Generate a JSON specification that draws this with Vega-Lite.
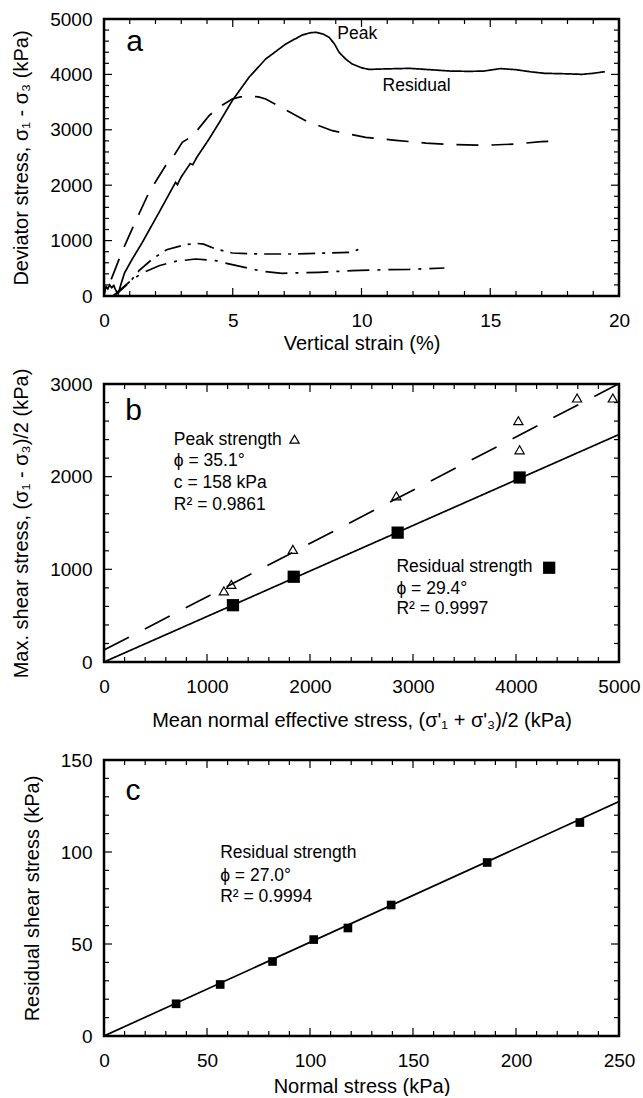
{
  "$schema": "https://vega.github.io/schema/vega-lite/v6.json",
  "padding": {"left": 11, "top": 10, "right": 5, "bottom": 0},
  "config": {
    "font": "Liberation Sans",
    "view": {"stroke": null},
    "axis": {"domain": false, "ticks": false, "grid": false, "labelFont": "Liberation Sans", "titleFont": "Liberation Sans", "labelFontSize": 19, "titleFontSize": 20, "titleFontWeight": "normal", "labelColor": "black", "titleColor": "black", "labelOverlap": false, "labelFlush": false},
    "text": {"font": "Liberation Sans", "color": "black"},
    "point": {"opacity": 1}
  },
  "resolve": {"scale": {"strokeDash": "independent", "size": "independent"}},
  "datasets": {
    "a_curves": [
      {"s": "S", "x": 0, "y": 0}, {"s": "S", "x": 0.08, "y": 170}, {"s": "S", "x": 0.15, "y": 130}, {"s": "S", "x": 0.22, "y": 200}, {"s": "S", "x": 0.3, "y": 150}, {"s": "S", "x": 0.38, "y": 190}, {"s": "S", "x": 0.45, "y": 110}, {"s": "S", "x": 0.55, "y": 40}, {"s": "S", "x": 0.65, "y": 200}, {"s": "S", "x": 0.8, "y": 420}, {"s": "S", "x": 1.1, "y": 668}, {"s": "S", "x": 1.49, "y": 969}, {"s": "S", "x": 2.14, "y": 1511}, {"s": "S", "x": 2.6, "y": 1900}, {"s": "S", "x": 2.78, "y": 2052}, {"s": "S", "x": 2.85, "y": 2010}, {"s": "S", "x": 3.0, "y": 2150}, {"s": "S", "x": 3.35, "y": 2390}, {"s": "S", "x": 3.45, "y": 2370}, {"s": "S", "x": 3.6, "y": 2500}, {"s": "S", "x": 4.08, "y": 2834}, {"s": "S", "x": 4.5, "y": 3150}, {"s": "S", "x": 4.98, "y": 3526}, {"s": "S", "x": 5.63, "y": 3947}, {"s": "S", "x": 6.28, "y": 4278}, {"s": "S", "x": 7.06, "y": 4549}, {"s": "S", "x": 7.7, "y": 4711}, {"s": "S", "x": 8.0, "y": 4750}, {"s": "S", "x": 8.22, "y": 4760}, {"s": "S", "x": 8.5, "y": 4730}, {"s": "S", "x": 8.74, "y": 4670}, {"s": "S", "x": 8.95, "y": 4550}, {"s": "S", "x": 9.13, "y": 4399}, {"s": "S", "x": 9.4, "y": 4270}, {"s": "S", "x": 9.64, "y": 4188}, {"s": "S", "x": 10.0, "y": 4120}, {"s": "S", "x": 10.29, "y": 4090}, {"s": "S", "x": 11.0, "y": 4100}, {"s": "S", "x": 11.86, "y": 4109}, {"s": "S", "x": 12.5, "y": 4090}, {"s": "S", "x": 13.46, "y": 4060}, {"s": "S", "x": 14.2, "y": 4055}, {"s": "S", "x": 14.74, "y": 4060}, {"s": "S", "x": 15.4, "y": 4105}, {"s": "S", "x": 16.0, "y": 4085}, {"s": "S", "x": 16.6, "y": 4045}, {"s": "S", "x": 17.1, "y": 4020}, {"s": "S", "x": 18.0, "y": 4010}, {"s": "S", "x": 18.57, "y": 4001}, {"s": "S", "x": 19.0, "y": 4020}, {"s": "S", "x": 19.45, "y": 4049},
      {"s": "D", "x": 0.28, "y": 300}, {"s": "D", "x": 0.7, "y": 800}, {"s": "D", "x": 1.12, "y": 1240}, {"s": "D", "x": 1.75, "y": 1872}, {"s": "D", "x": 2.39, "y": 2352}, {"s": "D", "x": 2.75, "y": 2560}, {"s": "D", "x": 3.04, "y": 2774}, {"s": "D", "x": 3.4, "y": 2880}, {"s": "D", "x": 3.56, "y": 2955}, {"s": "D", "x": 4.08, "y": 3255}, {"s": "D", "x": 4.5, "y": 3420}, {"s": "D", "x": 4.98, "y": 3556}, {"s": "D", "x": 5.3, "y": 3595}, {"s": "D", "x": 5.63, "y": 3605}, {"s": "D", "x": 6.0, "y": 3595}, {"s": "D", "x": 6.28, "y": 3556}, {"s": "D", "x": 7.06, "y": 3360}, {"s": "D", "x": 7.83, "y": 3165}, {"s": "D", "x": 8.87, "y": 2984}, {"s": "D", "x": 10.16, "y": 2864}, {"s": "D", "x": 11.33, "y": 2810}, {"s": "D", "x": 12.5, "y": 2760}, {"s": "D", "x": 13.46, "y": 2735}, {"s": "D", "x": 14.5, "y": 2725}, {"s": "D", "x": 15.06, "y": 2726}, {"s": "D", "x": 16.0, "y": 2744}, {"s": "D", "x": 16.98, "y": 2786}, {"s": "D", "x": 17.7, "y": 2800},
      {"s": "U", "x": 0.4, "y": 0}, {"s": "U", "x": 1.0, "y": 250}, {"s": "U", "x": 1.36, "y": 457}, {"s": "U", "x": 1.88, "y": 668}, {"s": "U", "x": 2.43, "y": 836}, {"s": "U", "x": 3.17, "y": 926}, {"s": "U", "x": 3.6, "y": 950}, {"s": "U", "x": 3.87, "y": 935}, {"s": "U", "x": 4.34, "y": 848}, {"s": "U", "x": 4.98, "y": 776}, {"s": "U", "x": 6.02, "y": 758}, {"s": "U", "x": 7.31, "y": 758}, {"s": "U", "x": 8.61, "y": 776}, {"s": "U", "x": 9.64, "y": 788}, {"s": "U", "x": 9.84, "y": 836}, {"s": "U", "x": 10.0, "y": 776},
      {"s": "L", "x": 0.35, "y": 0}, {"s": "L", "x": 1.05, "y": 280}, {"s": "L", "x": 1.49, "y": 415}, {"s": "L", "x": 2.14, "y": 547}, {"s": "L", "x": 2.78, "y": 626}, {"s": "L", "x": 3.56, "y": 668}, {"s": "L", "x": 4.34, "y": 637}, {"s": "L", "x": 4.98, "y": 565}, {"s": "L", "x": 6.15, "y": 446}, {"s": "L", "x": 6.92, "y": 410}, {"s": "L", "x": 8.35, "y": 428}, {"s": "L", "x": 9.64, "y": 457}, {"s": "L", "x": 11.07, "y": 475}, {"s": "L", "x": 11.86, "y": 480}, {"s": "L", "x": 13.22, "y": 505}
    ],
    "a_text": [{"x": 9.06, "y": 4729, "t": "Peak"}, {"x": 10.82, "y": 3785, "t": "Residual"}],
    "a_letter": [{"x": 0.86, "y": 4579, "t": "a"}],
    "a_box": [{"i": 0, "x": 0, "y": 0}, {"i": 1, "x": 20, "y": 0}, {"i": 2, "x": 20, "y": 5000}, {"i": 3, "x": 0, "y": 5000}, {"i": 4, "x": 0, "y": 0}],
    "a_xt": [{"v": 0, "k": "M"}, {"v": 1, "k": "m"}, {"v": 2, "k": "m"}, {"v": 3, "k": "m"}, {"v": 4, "k": "m"}, {"v": 5, "k": "M"}, {"v": 6, "k": "m"}, {"v": 7, "k": "m"}, {"v": 8, "k": "m"}, {"v": 9, "k": "m"}, {"v": 10, "k": "M"}, {"v": 11, "k": "m"}, {"v": 12, "k": "m"}, {"v": 13, "k": "m"}, {"v": 14, "k": "m"}, {"v": 15, "k": "M"}, {"v": 16, "k": "m"}, {"v": 17, "k": "m"}, {"v": 18, "k": "m"}, {"v": 19, "k": "m"}, {"v": 20, "k": "M"}],
    "a_yt": [{"v": 0, "k": "M"}, {"v": 200, "k": "m"}, {"v": 400, "k": "m"}, {"v": 600, "k": "m"}, {"v": 800, "k": "m"}, {"v": 1000, "k": "M"}, {"v": 1200, "k": "m"}, {"v": 1400, "k": "m"}, {"v": 1600, "k": "m"}, {"v": 1800, "k": "m"}, {"v": 2000, "k": "M"}, {"v": 2200, "k": "m"}, {"v": 2400, "k": "m"}, {"v": 2600, "k": "m"}, {"v": 2800, "k": "m"}, {"v": 3000, "k": "M"}, {"v": 3200, "k": "m"}, {"v": 3400, "k": "m"}, {"v": 3600, "k": "m"}, {"v": 3800, "k": "m"}, {"v": 4000, "k": "M"}, {"v": 4200, "k": "m"}, {"v": 4400, "k": "m"}, {"v": 4600, "k": "m"}, {"v": 4800, "k": "m"}, {"v": 5000, "k": "M"}],
    "b_fit": [{"fit": "peak", "x": 0, "y": 129}, {"fit": "peak", "x": 5000, "y": 3004}, {"fit": "res", "x": 0, "y": 0}, {"fit": "res", "x": 5000, "y": 2455}],
    "b_peak": [{"x": 1164, "y": 768}, {"x": 1236, "y": 837}, {"x": 1834, "y": 1215}, {"x": 2839, "y": 1792}, {"x": 4023, "y": 2604}, {"x": 4035, "y": 2290}, {"x": 4593, "y": 2849}, {"x": 4940, "y": 2849}, {"x": 1850, "y": 2405}],
    "b_res": [{"x": 1252, "y": 613}, {"x": 1842, "y": 920}, {"x": 2851, "y": 1396}, {"x": 4035, "y": 1991}, {"x": 4322, "y": 1017}],
    "b_text": [
      {"x": 678, "y": 2398, "t": "Peak strength"}, {"x": 678, "y": 2164, "t": "ϕ = 35.1°"}, {"x": 678, "y": 1929, "t": "c = 158 kPa"}, {"x": 678, "y": 1695, "t": "R² = 0.9861"},
      {"x": 2839, "y": 1028, "t": "Residual strength"}, {"x": 2839, "y": 793, "t": "ϕ = 29.4°"}, {"x": 2839, "y": 577, "t": "R² = 0.9997"}
    ],
    "b_letter": [{"x": 207, "y": 2705, "t": "b"}],
    "b_box": [{"i": 0, "x": 0, "y": 0}, {"i": 1, "x": 5000, "y": 0}, {"i": 2, "x": 5000, "y": 3000}, {"i": 3, "x": 0, "y": 3000}, {"i": 4, "x": 0, "y": 0}],
    "b_xt": [{"v": 0, "k": "M"}, {"v": 200, "k": "m"}, {"v": 400, "k": "m"}, {"v": 600, "k": "m"}, {"v": 800, "k": "m"}, {"v": 1000, "k": "M"}, {"v": 1200, "k": "m"}, {"v": 1400, "k": "m"}, {"v": 1600, "k": "m"}, {"v": 1800, "k": "m"}, {"v": 2000, "k": "M"}, {"v": 2200, "k": "m"}, {"v": 2400, "k": "m"}, {"v": 2600, "k": "m"}, {"v": 2800, "k": "m"}, {"v": 3000, "k": "M"}, {"v": 3200, "k": "m"}, {"v": 3400, "k": "m"}, {"v": 3600, "k": "m"}, {"v": 3800, "k": "m"}, {"v": 4000, "k": "M"}, {"v": 4200, "k": "m"}, {"v": 4400, "k": "m"}, {"v": 4600, "k": "m"}, {"v": 4800, "k": "m"}, {"v": 5000, "k": "M"}],
    "b_yt": [{"v": 0, "k": "M"}, {"v": 200, "k": "m"}, {"v": 400, "k": "m"}, {"v": 600, "k": "m"}, {"v": 800, "k": "m"}, {"v": 1000, "k": "M"}, {"v": 1200, "k": "m"}, {"v": 1400, "k": "m"}, {"v": 1600, "k": "m"}, {"v": 1800, "k": "m"}, {"v": 2000, "k": "M"}, {"v": 2200, "k": "m"}, {"v": 2400, "k": "m"}, {"v": 2600, "k": "m"}, {"v": 2800, "k": "m"}, {"v": 3000, "k": "M"}],
    "c_fit": [{"x": 0, "y": 0}, {"x": 250, "y": 127.4}],
    "c_res": [{"x": 35, "y": 17.5}, {"x": 56.4, "y": 28.0}, {"x": 81.8, "y": 40.5}, {"x": 101.8, "y": 52.4}, {"x": 118.4, "y": 58.7}, {"x": 139.4, "y": 71.2}, {"x": 186, "y": 94.3}, {"x": 231, "y": 116.0}],
    "c_text": [{"x": 56.4, "y": 99.2, "t": "Residual strength"}, {"x": 56.4, "y": 87.1, "t": "ϕ = 27.0°"}, {"x": 56.4, "y": 75.4, "t": "R² = 0.9994"}],
    "c_letter": [{"x": 10.4, "y": 133.2, "t": "c"}],
    "c_box": [{"i": 0, "x": 0, "y": 0}, {"i": 1, "x": 250, "y": 0}, {"i": 2, "x": 250, "y": 150}, {"i": 3, "x": 0, "y": 150}, {"i": 4, "x": 0, "y": 0}],
    "c_xt": [{"v": 0, "k": "M"}, {"v": 10, "k": "m"}, {"v": 20, "k": "m"}, {"v": 30, "k": "m"}, {"v": 40, "k": "m"}, {"v": 50, "k": "M"}, {"v": 60, "k": "m"}, {"v": 70, "k": "m"}, {"v": 80, "k": "m"}, {"v": 90, "k": "m"}, {"v": 100, "k": "M"}, {"v": 110, "k": "m"}, {"v": 120, "k": "m"}, {"v": 130, "k": "m"}, {"v": 140, "k": "m"}, {"v": 150, "k": "M"}, {"v": 160, "k": "m"}, {"v": 170, "k": "m"}, {"v": 180, "k": "m"}, {"v": 190, "k": "m"}, {"v": 200, "k": "M"}, {"v": 210, "k": "m"}, {"v": 220, "k": "m"}, {"v": 230, "k": "m"}, {"v": 240, "k": "m"}, {"v": 250, "k": "M"}],
    "c_yt": [{"v": 0, "k": "M"}, {"v": 10, "k": "m"}, {"v": 20, "k": "m"}, {"v": 30, "k": "m"}, {"v": 40, "k": "m"}, {"v": 50, "k": "M"}, {"v": 60, "k": "m"}, {"v": 70, "k": "m"}, {"v": 80, "k": "m"}, {"v": 90, "k": "m"}, {"v": 100, "k": "M"}, {"v": 110, "k": "m"}, {"v": 120, "k": "m"}, {"v": 130, "k": "m"}, {"v": 140, "k": "m"}, {"v": 150, "k": "M"}]
  },
  "spacing": 15,
  "vconcat": [
    {
      "width": 515, "height": 277,
      "resolve": {"axis": {"x": "independent", "y": "independent"}},
      "layer": [
        {
          "data": {"name": "a_curves"},
          "mark": {"type": "line", "color": "black", "strokeWidth": 1.7, "clip": true},
          "encoding": {
            "x": {"field": "x", "type": "quantitative", "scale": {"domain": [0, 20], "nice": false, "zero": false},
                  "axis": {"orient": "bottom", "values": [0, 5, 10, 15, 20], "labelPadding": 15, "format": "d", "title": "Vertical strain (%)", "titlePadding": 3}},
            "y": {"field": "y", "type": "quantitative", "scale": {"domain": [0, 5000], "nice": false},
                  "axis": {"orient": "left", "values": [0, 1000, 2000, 3000, 4000, 5000], "labelPadding": 12, "format": "d", "title": "Deviator stress, σ₁ - σ₃ (kPa)", "titlePadding": 18}},
            "strokeDash": {"field": "s", "type": "nominal", "scale": {"domain": ["S", "D", "U", "L"], "range": [[1, 0], [22, 13], [17, 7, 3, 7], [22, 8, 3, 8]]}, "legend": null}
          }
        },
        {
          "data": {"name": "a_box"},
          "mark": {"type": "line", "color": "black", "strokeWidth": 2.5, "strokeJoin": "miter", "strokeCap": "square"},
          "encoding": {
            "x": {"field": "x", "type": "quantitative", "scale": {"domain": [0, 20], "nice": false, "zero": false}, "axis": null},
            "y": {"field": "y", "type": "quantitative", "scale": {"domain": [0, 5000], "nice": false}, "axis": null},
            "order": {"field": "i"}
          }
        },
        {
          "data": {"name": "a_xt"},
          "mark": {"type": "point", "shape": "M0,0L0,-1", "filled": false, "color": "black", "strokeWidth": 1.2},
          "encoding": {
            "x": {"field": "v", "type": "quantitative", "scale": {"domain": [0, 20], "nice": false, "zero": false}, "axis": null},
            "y": {"datum": 0, "type": "quantitative", "scale": {"domain": [0, 5000], "nice": false}, "axis": null},
            "size": {"field": "k", "type": "ordinal", "scale": {"domain": ["M", "m"], "range": [256, 100]}, "legend": null}
          }
        },
        {
          "data": {"name": "a_xt"},
          "mark": {"type": "point", "shape": "M0,0L0,1", "filled": false, "color": "black", "strokeWidth": 1.2},
          "encoding": {
            "x": {"field": "v", "type": "quantitative", "scale": {"domain": [0, 20], "nice": false, "zero": false}, "axis": null},
            "y": {"datum": 5000, "type": "quantitative", "scale": {"domain": [0, 5000], "nice": false}, "axis": null},
            "size": {"field": "k", "type": "ordinal", "scale": {"domain": ["M", "m"], "range": [256, 100]}, "legend": null}
          }
        },
        {
          "data": {"name": "a_yt"},
          "mark": {"type": "point", "shape": "M0,0L1,0", "filled": false, "color": "black", "strokeWidth": 1.2},
          "encoding": {
            "y": {"field": "v", "type": "quantitative", "scale": {"domain": [0, 5000], "nice": false}, "axis": null},
            "x": {"datum": 0, "type": "quantitative", "scale": {"domain": [0, 20], "nice": false, "zero": false}, "axis": null},
            "size": {"field": "k", "type": "ordinal", "scale": {"domain": ["M", "m"], "range": [256, 100]}, "legend": null}
          }
        },
        {
          "data": {"name": "a_yt"},
          "mark": {"type": "point", "shape": "M0,0L-1,0", "filled": false, "color": "black", "strokeWidth": 1.2},
          "encoding": {
            "y": {"field": "v", "type": "quantitative", "scale": {"domain": [0, 5000], "nice": false}, "axis": null},
            "x": {"datum": 20, "type": "quantitative", "scale": {"domain": [0, 20], "nice": false, "zero": false}, "axis": null},
            "size": {"field": "k", "type": "ordinal", "scale": {"domain": ["M", "m"], "range": [256, 100]}, "legend": null}
          }
        },
        {
          "data": {"name": "a_text"},
          "mark": {"type": "text", "align": "left", "baseline": "middle", "fontSize": 17.5},
          "encoding": {
            "x": {"field": "x", "type": "quantitative", "scale": {"domain": [0, 20], "nice": false, "zero": false}, "axis": null},
            "y": {"field": "y", "type": "quantitative", "scale": {"domain": [0, 5000], "nice": false}, "axis": null},
            "text": {"field": "t"}
          }
        },
        {
          "data": {"name": "a_letter"},
          "mark": {"type": "text", "align": "left", "baseline": "middle", "fontSize": 30},
          "encoding": {
            "x": {"field": "x", "type": "quantitative", "scale": {"domain": [0, 20], "nice": false, "zero": false}, "axis": null},
            "y": {"field": "y", "type": "quantitative", "scale": {"domain": [0, 5000], "nice": false}, "axis": null},
            "text": {"field": "t"}
          }
        }
      ]
    },
    {
      "width": 515, "height": 278,
      "resolve": {"axis": {"x": "independent", "y": "independent"}},
      "layer": [
        {
          "data": {"name": "b_fit"},
          "mark": {"type": "line", "color": "black", "strokeWidth": 1.7, "clip": true},
          "encoding": {
            "x": {"field": "x", "type": "quantitative", "scale": {"domain": [0, 5000], "nice": false, "zero": false},
                  "axis": {"orient": "bottom", "values": [0, 1000, 2000, 3000, 4000, 5000], "labelPadding": 15, "format": "d", "title": ["Mean normal effective stress, (σ'₁ + σ'₃)/2  (kPa)", " "], "titleLineHeight": 6, "titlePadding": 14}},
            "y": {"field": "y", "type": "quantitative", "scale": {"domain": [0, 3000], "nice": false},
                  "axis": {"orient": "left", "values": [0, 1000, 2000, 3000], "labelPadding": 12, "format": "d", "title": "Max. shear stress, (σ₁ - σ₃)/2 (kPa)", "titlePadding": 18}},
            "strokeDash": {"field": "fit", "type": "nominal", "scale": {"domain": ["peak", "res"], "range": [[28, 18], [1, 0]]}, "legend": null}
          }
        },
        {
          "data": {"name": "b_box"},
          "mark": {"type": "line", "color": "black", "strokeWidth": 2.5, "strokeJoin": "miter", "strokeCap": "square"},
          "encoding": {
            "x": {"field": "x", "type": "quantitative", "scale": {"domain": [0, 5000], "nice": false, "zero": false}, "axis": null},
            "y": {"field": "y", "type": "quantitative", "scale": {"domain": [0, 3000], "nice": false}, "axis": null},
            "order": {"field": "i"}
          }
        },
        {
          "data": {"name": "b_xt"},
          "mark": {"type": "point", "shape": "M0,0L0,-1", "filled": false, "color": "black", "strokeWidth": 1.2},
          "encoding": {
            "x": {"field": "v", "type": "quantitative", "scale": {"domain": [0, 5000], "nice": false, "zero": false}, "axis": null},
            "y": {"datum": 0, "type": "quantitative", "scale": {"domain": [0, 3000], "nice": false}, "axis": null},
            "size": {"field": "k", "type": "ordinal", "scale": {"domain": ["M", "m"], "range": [256, 100]}, "legend": null}
          }
        },
        {
          "data": {"name": "b_xt"},
          "mark": {"type": "point", "shape": "M0,0L0,1", "filled": false, "color": "black", "strokeWidth": 1.2},
          "encoding": {
            "x": {"field": "v", "type": "quantitative", "scale": {"domain": [0, 5000], "nice": false, "zero": false}, "axis": null},
            "y": {"datum": 3000, "type": "quantitative", "scale": {"domain": [0, 3000], "nice": false}, "axis": null},
            "size": {"field": "k", "type": "ordinal", "scale": {"domain": ["M", "m"], "range": [256, 100]}, "legend": null}
          }
        },
        {
          "data": {"name": "b_yt"},
          "mark": {"type": "point", "shape": "M0,0L1,0", "filled": false, "color": "black", "strokeWidth": 1.2},
          "encoding": {
            "y": {"field": "v", "type": "quantitative", "scale": {"domain": [0, 3000], "nice": false}, "axis": null},
            "x": {"datum": 0, "type": "quantitative", "scale": {"domain": [0, 5000], "nice": false, "zero": false}, "axis": null},
            "size": {"field": "k", "type": "ordinal", "scale": {"domain": ["M", "m"], "range": [256, 100]}, "legend": null}
          }
        },
        {
          "data": {"name": "b_yt"},
          "mark": {"type": "point", "shape": "M0,0L-1,0", "filled": false, "color": "black", "strokeWidth": 1.2},
          "encoding": {
            "y": {"field": "v", "type": "quantitative", "scale": {"domain": [0, 3000], "nice": false}, "axis": null},
            "x": {"datum": 5000, "type": "quantitative", "scale": {"domain": [0, 5000], "nice": false, "zero": false}, "axis": null},
            "size": {"field": "k", "type": "ordinal", "scale": {"domain": ["M", "m"], "range": [256, 100]}, "legend": null}
          }
        },
        {
          "data": {"name": "b_peak"},
          "mark": {"type": "point", "shape": "triangle-up", "filled": false, "color": "black", "strokeWidth": 1.2, "size": 85},
          "encoding": {
            "x": {"field": "x", "type": "quantitative", "scale": {"domain": [0, 5000], "nice": false, "zero": false}, "axis": null},
            "y": {"field": "y", "type": "quantitative", "scale": {"domain": [0, 3000], "nice": false}, "axis": null}
          }
        },
        {
          "data": {"name": "b_res"},
          "mark": {"type": "square", "color": "black", "size": 150, "opacity": 1},
          "encoding": {
            "x": {"field": "x", "type": "quantitative", "scale": {"domain": [0, 5000], "nice": false, "zero": false}, "axis": null},
            "y": {"field": "y", "type": "quantitative", "scale": {"domain": [0, 3000], "nice": false}, "axis": null}
          }
        },
        {
          "data": {"name": "b_text"},
          "mark": {"type": "text", "align": "left", "baseline": "middle", "fontSize": 17.5},
          "encoding": {
            "x": {"field": "x", "type": "quantitative", "scale": {"domain": [0, 5000], "nice": false, "zero": false}, "axis": null},
            "y": {"field": "y", "type": "quantitative", "scale": {"domain": [0, 3000], "nice": false}, "axis": null},
            "text": {"field": "t"}
          }
        },
        {
          "data": {"name": "b_letter"},
          "mark": {"type": "text", "align": "left", "baseline": "middle", "fontSize": 30},
          "encoding": {
            "x": {"field": "x", "type": "quantitative", "scale": {"domain": [0, 5000], "nice": false, "zero": false}, "axis": null},
            "y": {"field": "y", "type": "quantitative", "scale": {"domain": [0, 3000], "nice": false}, "axis": null},
            "text": {"field": "t"}
          }
        }
      ]
    },
    {
      "width": 515, "height": 276,
      "resolve": {"axis": {"x": "independent", "y": "independent"}},
      "layer": [
        {
          "data": {"name": "c_fit"},
          "mark": {"type": "line", "color": "black", "strokeWidth": 1.7, "clip": true},
          "encoding": {
            "x": {"field": "x", "type": "quantitative", "scale": {"domain": [0, 250], "nice": false, "zero": false},
                  "axis": {"orient": "bottom", "values": [0, 50, 100, 150, 200, 250], "labelPadding": 15, "format": "d", "title": "Normal stress (kPa)", "titlePadding": 6}},
            "y": {"field": "y", "type": "quantitative", "scale": {"domain": [0, 150], "nice": false},
                  "axis": {"orient": "left", "values": [0, 50, 100, 150], "labelPadding": 12, "format": "d", "title": "Residual shear stress (kPa)", "titlePadding": 18}}
          }
        },
        {
          "data": {"name": "c_box"},
          "mark": {"type": "line", "color": "black", "strokeWidth": 2.5, "strokeJoin": "miter", "strokeCap": "square"},
          "encoding": {
            "x": {"field": "x", "type": "quantitative", "scale": {"domain": [0, 250], "nice": false, "zero": false}, "axis": null},
            "y": {"field": "y", "type": "quantitative", "scale": {"domain": [0, 150], "nice": false}, "axis": null},
            "order": {"field": "i"}
          }
        },
        {
          "data": {"name": "c_xt"},
          "mark": {"type": "point", "shape": "M0,0L0,-1", "filled": false, "color": "black", "strokeWidth": 1.2},
          "encoding": {
            "x": {"field": "v", "type": "quantitative", "scale": {"domain": [0, 250], "nice": false, "zero": false}, "axis": null},
            "y": {"datum": 0, "type": "quantitative", "scale": {"domain": [0, 150], "nice": false}, "axis": null},
            "size": {"field": "k", "type": "ordinal", "scale": {"domain": ["M", "m"], "range": [256, 100]}, "legend": null}
          }
        },
        {
          "data": {"name": "c_xt"},
          "mark": {"type": "point", "shape": "M0,0L0,1", "filled": false, "color": "black", "strokeWidth": 1.2},
          "encoding": {
            "x": {"field": "v", "type": "quantitative", "scale": {"domain": [0, 250], "nice": false, "zero": false}, "axis": null},
            "y": {"datum": 150, "type": "quantitative", "scale": {"domain": [0, 150], "nice": false}, "axis": null},
            "size": {"field": "k", "type": "ordinal", "scale": {"domain": ["M", "m"], "range": [256, 100]}, "legend": null}
          }
        },
        {
          "data": {"name": "c_yt"},
          "mark": {"type": "point", "shape": "M0,0L1,0", "filled": false, "color": "black", "strokeWidth": 1.2},
          "encoding": {
            "y": {"field": "v", "type": "quantitative", "scale": {"domain": [0, 150], "nice": false}, "axis": null},
            "x": {"datum": 0, "type": "quantitative", "scale": {"domain": [0, 250], "nice": false, "zero": false}, "axis": null},
            "size": {"field": "k", "type": "ordinal", "scale": {"domain": ["M", "m"], "range": [256, 100]}, "legend": null}
          }
        },
        {
          "data": {"name": "c_yt"},
          "mark": {"type": "point", "shape": "M0,0L-1,0", "filled": false, "color": "black", "strokeWidth": 1.2},
          "encoding": {
            "y": {"field": "v", "type": "quantitative", "scale": {"domain": [0, 150], "nice": false}, "axis": null},
            "x": {"datum": 250, "type": "quantitative", "scale": {"domain": [0, 250], "nice": false, "zero": false}, "axis": null},
            "size": {"field": "k", "type": "ordinal", "scale": {"domain": ["M", "m"], "range": [256, 100]}, "legend": null}
          }
        },
        {
          "data": {"name": "c_res"},
          "mark": {"type": "square", "color": "black", "size": 75, "opacity": 1},
          "encoding": {
            "x": {"field": "x", "type": "quantitative", "scale": {"domain": [0, 250], "nice": false, "zero": false}, "axis": null},
            "y": {"field": "y", "type": "quantitative", "scale": {"domain": [0, 150], "nice": false}, "axis": null}
          }
        },
        {
          "data": {"name": "c_text"},
          "mark": {"type": "text", "align": "left", "baseline": "middle", "fontSize": 17.5},
          "encoding": {
            "x": {"field": "x", "type": "quantitative", "scale": {"domain": [0, 250], "nice": false, "zero": false}, "axis": null},
            "y": {"field": "y", "type": "quantitative", "scale": {"domain": [0, 150], "nice": false}, "axis": null},
            "text": {"field": "t"}
          }
        },
        {
          "data": {"name": "c_letter"},
          "mark": {"type": "text", "align": "left", "baseline": "middle", "fontSize": 30},
          "encoding": {
            "x": {"field": "x", "type": "quantitative", "scale": {"domain": [0, 250], "nice": false, "zero": false}, "axis": null},
            "y": {"field": "y", "type": "quantitative", "scale": {"domain": [0, 150], "nice": false}, "axis": null},
            "text": {"field": "t"}
          }
        }
      ]
    }
  ]
}
